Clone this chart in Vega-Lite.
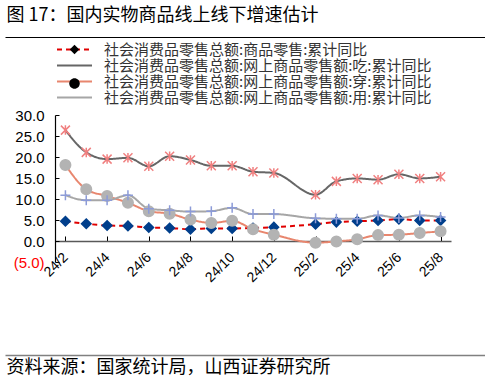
{
  "$schema": "https://vega.github.io/schema/vega-lite/v6.json",
  "width": 396,
  "height": 147,
  "autosize": {"type": "none"},
  "padding": {"left": 55, "top": 115, "right": 34, "bottom": 120},
  "background": "white",
  "config": {"view": {"stroke": null}, "font": "Liberation Sans"},
  "data": {
    "values": [
      {"month": "24/2", "社会消费品零售总额:商品零售:累计同比": 4.7, "社会消费品零售总额:网上商品零售额:吃:累计同比": 26.4, "社会消费品零售总额:网上商品零售额:穿:累计同比": 18.1, "社会消费品零售总额:网上商品零售额:用:累计同比": 10.9},
      {"month": "24/3", "社会消费品零售总额:商品零售:累计同比": 4.1, "社会消费品零售总额:网上商品零售额:吃:累计同比": 21.1, "社会消费品零售总额:网上商品零售额:穿:累计同比": 12.3, "社会消费品零售总额:网上商品零售额:用:累计同比": 9.7},
      {"month": "24/4", "社会消费品零售总额:商品零售:累计同比": 3.7, "社会消费品零售总额:网上商品零售额:吃:累计同比": 19.5, "社会消费品零售总额:网上商品零售额:穿:累计同比": 10.7, "社会消费品零售总额:网上商品零售额:用:累计同比": 9.7},
      {"month": "24/5", "社会消费品零售总额:商品零售:累计同比": 3.6, "社会消费品零售总额:网上商品零售额:吃:累计同比": 19.8, "社会消费品零售总额:网上商品零售额:穿:累计同比": 9.1, "社会消费品零售总额:网上商品零售额:用:累计同比": 10.9},
      {"month": "24/6", "社会消费品零售总额:商品零售:累计同比": 3.2, "社会消费品零售总额:网上商品零售额:吃:累计同比": 17.8, "社会消费品零售总额:网上商品零售额:穿:累计同比": 7.1, "社会消费品零售总额:网上商品零售额:用:累计同比": 7.7},
      {"month": "24/7", "社会消费品零售总额:商品零售:累计同比": 3.1, "社会消费品零售总额:网上商品零售额:吃:累计同比": 20.2, "社会消费品零售总额:网上商品零售额:穿:累计同比": 6.5, "社会消费品零售总额:网上商品零售额:用:累计同比": 7.3},
      {"month": "24/8", "社会消费品零售总额:商品零售:累计同比": 2.8, "社会消费品零售总额:网上商品零售额:吃:累计同比": 19.3, "社会消费品零售总额:网上商品零售额:穿:累计同比": 5.1, "社会消费品零售总额:网上商品零售额:用:累计同比": 7.0},
      {"month": "24/9", "社会消费品零售总额:商品零售:累计同比": 3.0, "社会消费品零售总额:网上商品零售额:吃:累计同比": 17.9, "社会消费品零售总额:网上商品零售额:穿:累计同比": 4.3, "社会消费品零售总额:网上商品零售额:用:累计同比": 7.1},
      {"month": "24/10", "社会消费品零售总额:商品零售:累计同比": 3.0, "社会消费品零售总额:网上商品零售额:吃:累计同比": 17.9, "社会消费品零售总额:网上商品零售额:穿:累计同比": 4.8, "社会消费品零售总额:网上商品零售额:用:累计同比": 7.9},
      {"month": "24/11", "社会消费品零售总额:商品零售:累计同比": 3.1, "社会消费品零售总额:网上商品零售额:吃:累计同比": 16.5, "社会消费品零售总额:网上商品零售额:穿:累计同比": 2.8, "社会消费品零售总额:网上商品零售额:用:累计同比": 6.4},
      {"month": "24/12", "社会消费品零售总额:商品零售:累计同比": 3.3, "社会消费品零售总额:网上商品零售额:吃:累计同比": 16.2, "社会消费品零售总额:网上商品零售额:穿:累计同比": 1.5, "社会消费品零售总额:网上商品零售额:用:累计同比": 6.4},
      {"month": "25/2", "社会消费品零售总额:商品零售:累计同比": 4.0, "社会消费品零售总额:网上商品零售额:吃:累计同比": 11.0, "社会消费品零售总额:网上商品零售额:穿:累计同比": -0.4, "社会消费品零售总额:网上商品零售额:用:累计同比": 5.4},
      {"month": "25/3", "社会消费品零售总额:商品零售:累计同比": 4.5, "社会消费品零售总额:网上商品零售额:吃:累计同比": 14.2, "社会消费品零售总额:网上商品零售额:穿:累计同比": -0.1, "社会消费品零售总额:网上商品零售额:用:累计同比": 5.3},
      {"month": "25/4", "社会消费品零售总额:商品零售:累计同比": 4.7, "社会消费品零售总额:网上商品零售额:吃:累计同比": 14.9, "社会消费品零售总额:网上商品零售额:穿:累计同比": 0.4, "社会消费品零售总额:网上商品零售额:用:累计同比": 5.3},
      {"month": "25/5", "社会消费品零售总额:商品零售:累计同比": 4.9, "社会消费品零售总额:网上商品零售额:吃:累计同比": 14.6, "社会消费品零售总额:网上商品零售额:穿:累计同比": 1.4, "社会消费品零售总额:网上商品零售额:用:累计同比": 6.1},
      {"month": "25/6", "社会消费品零售总额:商品零售:累计同比": 5.2, "社会消费品零售总额:网上商品零售额:吃:累计同比": 15.9, "社会消费品零售总额:网上商品零售额:穿:累计同比": 1.5, "社会消费品零售总额:网上商品零售额:用:累计同比": 5.5},
      {"month": "25/7", "社会消费品零售总额:商品零售:累计同比": 4.9, "社会消费品零售总额:网上商品零售额:吃:累计同比": 14.9, "社会消费品零售总额:网上商品零售额:穿:累计同比": 1.9, "社会消费品零售总额:网上商品零售额:用:累计同比": 6.1},
      {"month": "25/8", "社会消费品零售总额:商品零售:累计同比": 4.9, "社会消费品零售总额:网上商品零售额:吃:累计同比": 15.3, "社会消费品零售总额:网上商品零售额:穿:累计同比": 2.3, "社会消费品零售总额:网上商品零售额:用:累计同比": 5.7}
    ]
  },
  "transform": [
    {"fold": ["社会消费品零售总额:商品零售:累计同比", "社会消费品零售总额:网上商品零售额:吃:累计同比", "社会消费品零售总额:网上商品零售额:穿:累计同比", "社会消费品零售总额:网上商品零售额:用:累计同比"], "as": ["series", "value"]}
  ],
  "layer": [
    {
      "layer": [
        {
          "mark": {"type": "line", "interpolate": "monotone", "strokeWidth": 2},
          "encoding": {
            "x": {"field": "month", "type": "ordinal",
              "scale": {"domain": ["24/2","24/3","24/4","24/5","24/6","24/7","24/8","24/9","24/10","24/11","24/12","25/1","25/2","25/3","25/4","25/5","25/6","25/7","25/8"], "paddingInner": 0, "paddingOuter": 0},
              "axis": {"values": ["24/2","24/4","24/6","24/8","24/10","24/12","25/2","25/4","25/6","25/8"], "bandPosition": 0, "offset": -21, "domainColor": "#595959", "domainWidth": 1.5, "tickColor": "#000000", "tickSize": -5, "tickWidth": 1, "labelAngle": -45, "labelAlign": "right", "labelBaseline": "middle", "labelPadding": 19, "labelFontSize": 14, "labelColor": "#000000", "labelOverlap": false, "title": null, "grid": false}},
            "y": {"field": "value", "type": "quantitative",
              "scale": {"domain": [-5, 30], "nice": false, "zero": false},
              "axis": {"values": [-5, 0, 5, 10, 15, 20, 25, 30], "tickCount": 20, "labelExpr": "datum.value < 0 ? '(' + format(-datum.value, '.1f') + ')' : format(datum.value, '.1f')", "labelColor": {"condition": {"test": "datum.value < 0", "value": "#ff0000"}, "value": "#000000"}, "tickSize": -4, "tickColor": "#000000", "domainColor": "#000000", "domainWidth": 1.2, "labelFontSize": 15, "labelPadding": 15, "labelOverlap": false, "labelBound": false, "labelFlush": false, "grid": false, "title": null}},
            "color": {"field": "series", "type": "nominal",
              "scale": {"domain": ["社会消费品零售总额:商品零售:累计同比", "社会消费品零售总额:网上商品零售额:吃:累计同比", "社会消费品零售总额:网上商品零售额:穿:累计同比", "社会消费品零售总额:网上商品零售额:用:累计同比"], "range": ["#e00000", "#666666", "#e8866e", "#a6a6a6"]},
              "legend": {"orient": "none", "legendX": 12, "legendY": -73, "title": null, "padding": 0, "symbolType": "M-3.5,0L3.5,0", "symbolSize": 100, "symbolStrokeWidth": 2, "labelFont": "Noto Sans CJK SC", "labelFontSize": 15, "labelColor": "#333333", "labelOffset": 22, "rowPadding": 0, "labelLimit": 400,
                "encode": {"symbols": {"update": {"strokeDash": {"signal": "datum.index == 0 ? [5, 4] : [1, 0]"}}}}}},
            "strokeDash": {"field": "series", "type": "nominal",
              "scale": {"domain": ["社会消费品零售总额:商品零售:累计同比", "社会消费品零售总额:网上商品零售额:吃:累计同比", "社会消费品零售总额:网上商品零售额:穿:累计同比", "社会消费品零售总额:网上商品零售额:用:累计同比"], "range": [[5, 4], [1, 0], [1, 0], [1, 0]]},
              "legend": null},
            "order": {"value": null}
          }
        },
        {
          "mark": {"type": "point", "filled": false, "size": 100, "strokeWidth": 1.5, "opacity": 1},
          "encoding": {
            "x": {"field": "month", "type": "ordinal"},
            "y": {"field": "value", "type": "quantitative"},
            "shape": {"field": "series", "type": "nominal",
              "sort": ["社会消费品零售总额:商品零售:累计同比", "社会消费品零售总额:网上商品零售额:吃:累计同比", "社会消费品零售总额:网上商品零售额:穿:累计同比", "社会消费品零售总额:网上商品零售额:用:累计同比"],
              "scale": {"range": ["M0,-0.95L0.95,0L0,0.95L-0.95,0Z", "M0,-0.95L0,0.95M-0.9,-0.9L0.9,0.9M-0.9,0.9L0.9,-0.9", "M-1.05,0A1.05,1.05,0,1,0,1.05,0A1.05,1.05,0,1,0,-1.05,0Z", "M-1,0L1,0M0,-1L0,1"]},
              "legend": {"orient": "none", "legendX": 12, "legendY": -73, "title": null, "padding": 0, "symbolSize": 100, "symbolStrokeWidth": 1.5, "labelFont": "Noto Sans CJK SC", "labelFontSize": 15, "labelOpacity": 0, "labelOffset": 22, "rowPadding": 0, "labelLimit": 400,
                "encode": {"symbols": {"update": {
                  "fill": {"signal": "datum.index == 0 ? '#003f8c' : datum.index == 2 ? '#b3b3b3' : 'transparent'"},
                  "stroke": {"signal": "datum.index == 0 ? '#003f8c' : datum.index == 1 ? '#f08080' : datum.index == 2 ? '#b3b3b3' : '#8c9bd8'"},
                  "opacity": {"value": 1}}}}}},
            "fill": {"field": "series", "type": "nominal",
              "sort": ["社会消费品零售总额:商品零售:累计同比", "社会消费品零售总额:网上商品零售额:吃:累计同比", "社会消费品零售总额:网上商品零售额:穿:累计同比", "社会消费品零售总额:网上商品零售额:用:累计同比"],
              "scale": {"range": ["#003f8c", "transparent", "#b3b3b3", "transparent"]},
              "legend": null},
            "stroke": {"field": "series", "type": "nominal",
              "sort": ["社会消费品零售总额:商品零售:累计同比", "社会消费品零售总额:网上商品零售额:吃:累计同比", "社会消费品零售总额:网上商品零售额:穿:累计同比", "社会消费品零售总额:网上商品零售额:用:累计同比"],
              "scale": {"range": ["#003f8c", "#f08080", "#b3b3b3", "#8c9bd8"]},
              "legend": null}
          }
        }
      ]
    },
    {
      "mark": {"type": "point", "opacity": 0},
      "encoding": {
        "x": {"field": "value", "type": "quantitative", "scale": {"range": [-50, 430]},
          "axis": {"orient": "top", "offset": 78, "domain": true, "domainColor": "#000000", "domainWidth": 1, "ticks": false, "labels": false, "grid": false,
            "title": "图 17：国内实物商品线上线下增速估计", "titleX": -49, "titleY": -22, "titleAlign": "left", "titleBaseline": "middle", "titleAngle": 0, "titleFont": "Noto Sans CJK SC", "titleFontSize": 18, "titleFontWeight": "normal", "titleColor": "#000000"}}
      }
    },
    {
      "mark": {"type": "point", "opacity": 0},
      "encoding": {
        "x": {"field": "value", "type": "quantitative", "scale": {"range": [-50, 430]},
          "axis": {"orient": "bottom", "offset": 93, "domain": true, "domainColor": "#808080", "domainWidth": 1.5, "ticks": false, "labels": false, "grid": false,
            "title": "资料来源：国家统计局，山西证券研究所", "titleX": -49, "titleY": 12, "titleAlign": "left", "titleBaseline": "middle", "titleAngle": 0, "titleFont": "Noto Sans CJK SC", "titleFontSize": 18, "titleFontWeight": "normal", "titleColor": "#000000"}}
      }
    }
  ],
  "resolve": {"scale": {"x": "independent"}, "axis": {"x": "independent"}}
}
